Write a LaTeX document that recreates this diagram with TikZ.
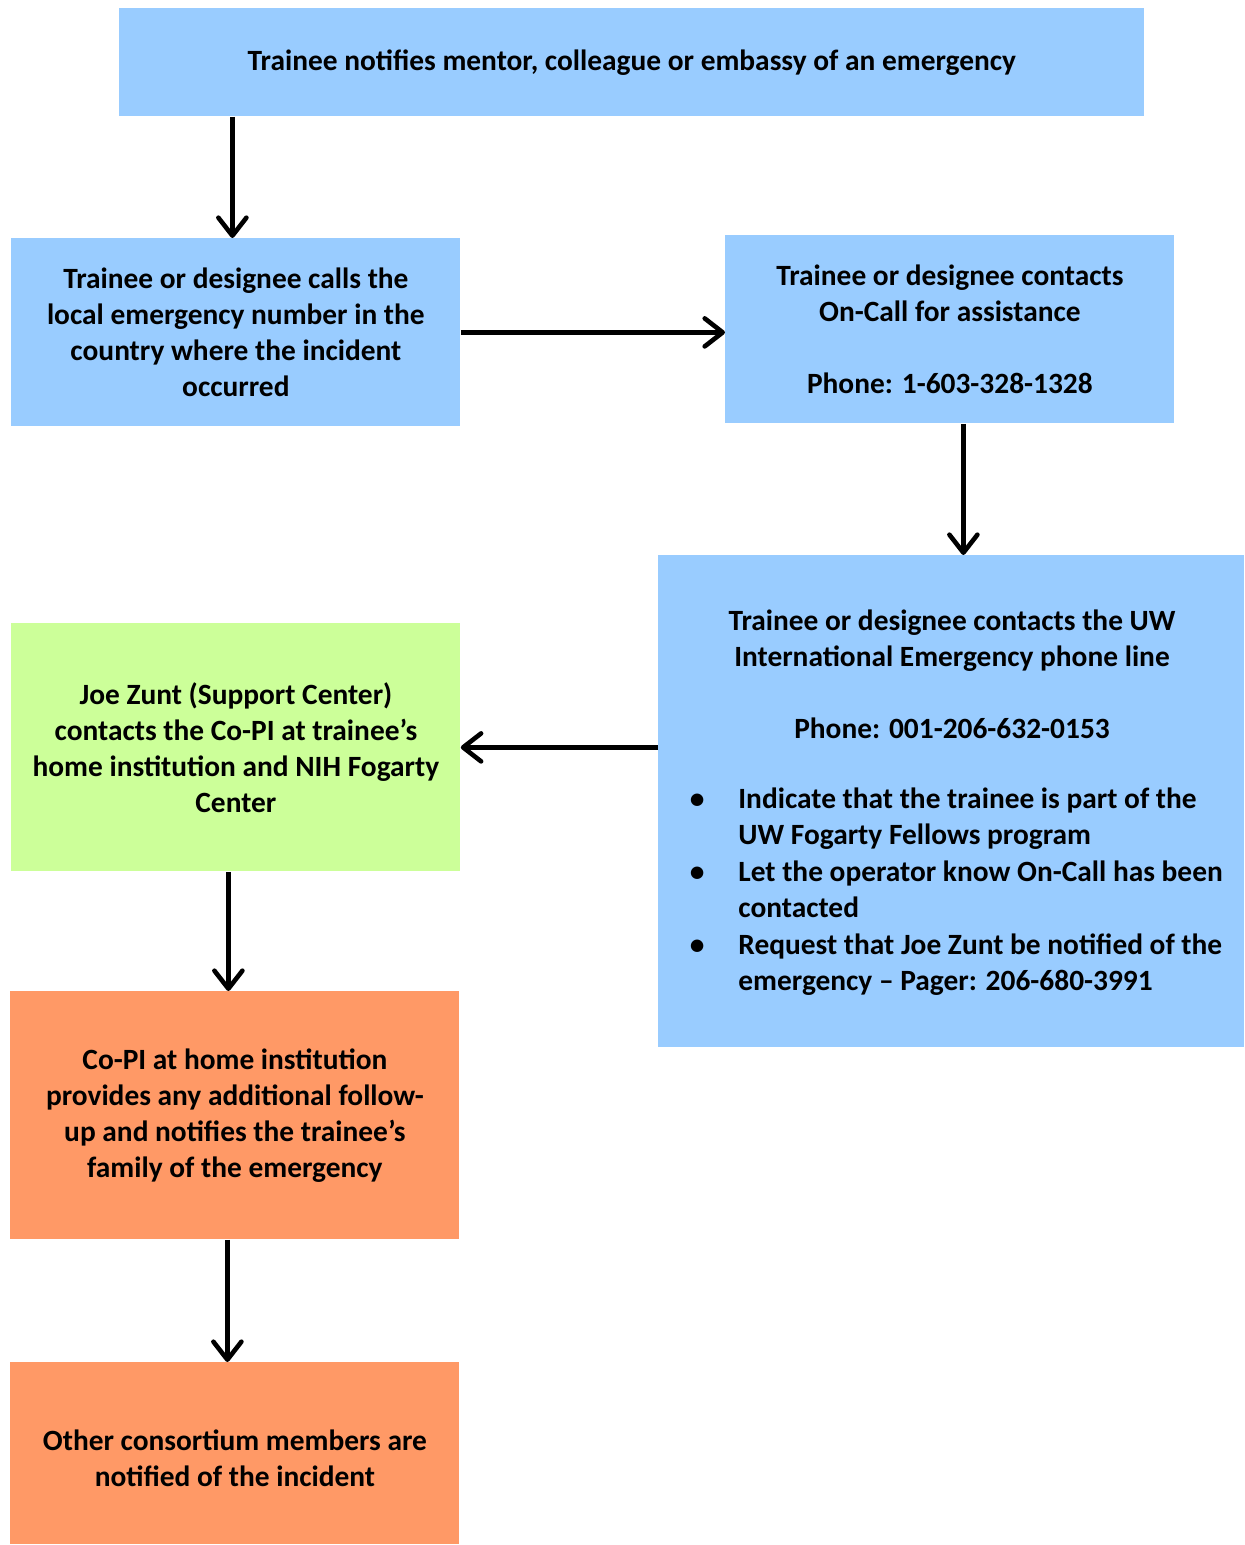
\documentclass[tikz,border=0pt]{standalone}
\usepackage{fontspec}
\setmainfont{Carlito}
\usetikzlibrary{arrows.meta}
\definecolor{boxblue}{HTML}{99CCFF}
\definecolor{boxgreen}{HTML}{CCFF99}
\definecolor{boxorange}{HTML}{FF9966}
\newcommand{\bul}{\llap{\textbullet\hspace{17pt}}}
\begin{document}
\begin{tikzpicture}[x=0.5pt,y=-0.5pt,
  every node/.style={font=\fontsize{14.7}{18}\selectfont\bfseries},
  box/.style={rectangle, inner sep=0pt, align=center, anchor=north west},
  flow/.style={line width=2.3pt, -{Straight Barb[length=9pt,width=14pt,line cap=round,line join=round]}}]
\useasboundingbox (0,0) rectangle (1245,1545);

\node[box, fill=boxblue, minimum width=512.5pt, minimum height=54pt] (top) at (119,8)
  {Trainee notifies mentor, colleague or embassy of an emergency};
\node[box, fill=boxblue, minimum width=224.5pt, minimum height=94pt] (A) at (11,238)
  {Trainee or designee calls the\\local emergency number in the\\country where the incident\\occurred};
\node[box, fill=boxblue, minimum width=224.5pt, minimum height=94pt] (B) at (725,235)
  {Trainee or designee contacts\\On-Call for assistance\\[18pt]Phone: 1-603-328-1328};
\node[box, fill=boxblue, minimum width=293pt, minimum height=246pt] (C) at (658,555) {};
\node[align=center, inner sep=0pt] (Chead) at (952,674)
  {Trainee or designee contacts the UW\\International Emergency phone line\\[18pt]Phone: 001-206-632-0153};
\node[align=left, inner sep=0pt, anchor=west] (Clist) at (738,892)
  {\bul Indicate that the trainee is part of the\\UW Fogarty Fellows program\\[0.5pt]\bul Let the operator know On-Call has been\\contacted\\[0.5pt]\bul Request that Joe Zunt be notified of the\\emergency – Pager: 206-680-3991};
\node[box, fill=boxgreen, minimum width=224.5pt, minimum height=124pt] (D) at (11,623)
  {Joe Zunt (Support Center)\\contacts the Co-PI at trainee’s\\home institution and NIH Fogarty\\Center};
\node[box, fill=boxorange, minimum width=224.5pt, minimum height=124pt] (E) at (10,991)
  {Co-PI at home institution\\provides any additional follow-\\up and notifies the trainee’s\\family of the emergency};
\node[box, fill=boxorange, minimum width=224.5pt, minimum height=91pt] (F) at (10,1362) {};
\node[align=center, inner sep=0pt] (Ftext) at (235,1458)
  {Other consortium members are\\notified of the incident};

\draw[flow] (top.south -| A.north) ++(-1.75pt,0) coordinate (t1) -- (t1 |- A.north);
\draw[flow] (A.east) -- (B.west |- A.east);
\draw[flow] ([xshift=6.75pt]B.south) -- ([xshift=6.75pt]B.south |- C.north);
\draw[flow] (C.west |- D.east) -- (D.east);
\draw[flow] ([xshift=-3.75pt]D.south) -- ([xshift=-3.75pt]D.south |- E.north);
\draw[flow] ([xshift=-3.75pt]E.south) -- ([xshift=-3.75pt]E.south |- F.north);
\end{tikzpicture}
\end{document}
